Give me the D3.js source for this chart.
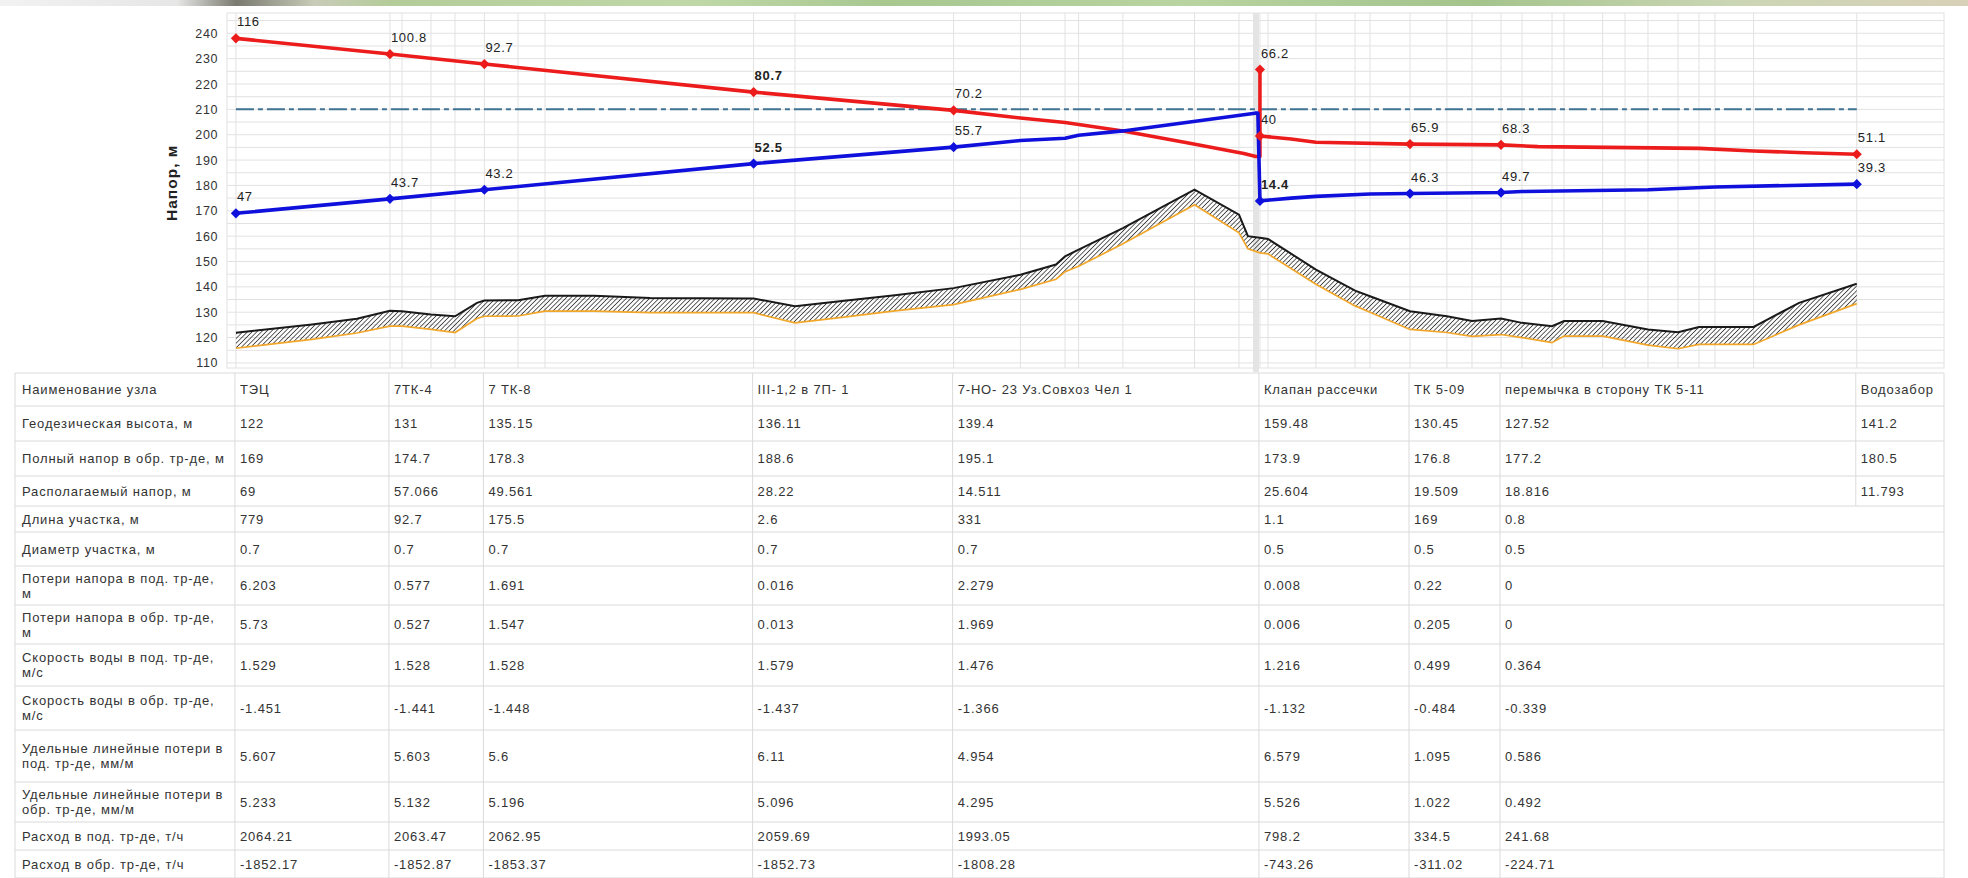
<!DOCTYPE html>
<html><head><meta charset="utf-8">
<script src="https://cdn.jsdelivr.net/npm/d3@7"></script>
<style>
html,body{margin:0;padding:0;background:#fff;}
svg{display:block;}
text{font-family:"Liberation Sans",Arial,sans-serif;}
</style></head><body>
<svg id="c" width="1968" height="878"></svg>
<script>
// ---------------- DATA ----------------
const nodeNames = ["ТЭЦ","7ТК-4","7 ТК-8","III-1,2  в 7П- 1","7-НО- 23 Уз.Совхоз Чел 1","Клапан рассечки","ТК 5-09","перемычка в  сторону ТК 5-11","Водозабор"];
// position of nodes along the profile (conditional units 0..100)
const nodeX = [0.52, 9.49, 14.99, 30.67, 42.32, 60.16, 68.90, 74.20, 94.92];

const geodetic   = [122, 131, 135.15, 136.11, 139.4, 159.48, 130.45, 127.52, 141.2];
const fullReturn = [169, 174.7, 178.3, 188.6, 195.1, 173.9, 176.8, 177.2, 180.5];
const availHead  = [69, 57.066, 49.561, 28.22, 14.511, 25.604, 19.509, 18.816, 11.793];
const segLength  = [779, 92.7, 175.5, 2.6, 331, 1.1, 169, 0.8];
const segDiam    = [0.7, 0.7, 0.7, 0.7, 0.7, 0.5, 0.5, 0.5];
const lossSup    = [6.203, 0.577, 1.691, 0.016, 2.279, 0.008, 0.22, 0];
const lossRet    = [5.73, 0.527, 1.547, 0.013, 1.969, 0.006, 0.205, 0];
const velSup     = [1.529, 1.528, 1.528, 1.579, 1.476, 1.216, 0.499, 0.364];
const velRet     = [-1.451, -1.441, -1.448, -1.437, -1.366, -1.132, -0.484, -0.339];
const specSup    = [5.607, 5.603, 5.6, 6.11, 4.954, 6.579, 1.095, 0.586];
const specRet    = [5.233, 5.132, 5.196, 5.096, 4.295, 5.526, 1.022, 0.492];
const flowSup    = [2064.21, 2063.47, 2062.95, 2059.69, 1993.05, 798.2, 334.5, 241.68];
const flowRet    = [-1852.17, -1852.87, -1853.37, -1852.73, -1808.28, -743.26, -311.02, -224.71];

// chart data labels (piezometric head above ground)
const supplyLabels = ["116","100.8","92.7","80.7","70.2","40","65.9","68.3","51.1"];
const returnLabels = ["47","43.7","43.2","52.5","55.7","14.4","46.3","49.7","39.3"];
const valvePeakHead = 225.7;
const valvePeakLabel = "66.2";
const staticHead = 210;

// supply (red) head line
const supplyX = [0.52, 9.49, 14.99, 30.67, 42.32, 46.21, 48.81, 52.18, 55.84, 59.22, 59.92, 60.16, 60.16, 60.16, 61.97, 63.42, 68.90, 74.20, 76.35, 85.73, 88.91, 91.85, 94.92];
const supplyY = [238.0, 231.8, 227.9, 216.8, 209.6, 206.6, 204.8, 201.5, 196.9, 192.6, 191.4, 191.4, 225.7, 199.5, 198.3, 197.0, 196.3, 196.0, 195.3, 194.6, 193.6, 192.9, 192.3];
// return (blue) head line
const returnX = [0.52, 9.49, 14.99, 30.67, 42.32, 46.21, 48.81, 49.60, 52.18, 59.87, 60.04, 60.16, 61.97, 63.42, 66.57, 68.90, 74.20, 75.42, 82.76, 86.66, 94.92];
const returnY = [169.0, 174.7, 178.3, 188.6, 195.1, 197.7, 198.6, 199.8, 201.5, 208.5, 208.5, 173.9, 175.0, 175.7, 176.6, 176.8, 177.2, 177.6, 178.3, 179.4, 180.5];

// ground profile
const groundX   = [0.52, 4.95, 7.57, 9.49, 10.19, 11.88, 13.28, 14.56, 14.99, 16.95, 18.52, 21.37, 24.64, 30.67, 33.08, 35.82, 38.90, 42.32, 46.21, 48.28, 48.81, 49.60, 52.18, 56.35, 58.94, 59.46, 60.16, 60.63, 63.42, 65.70, 66.57, 68.90, 71.05, 72.51, 74.20, 75.42, 77.17, 77.87, 80.12, 82.76, 84.51, 85.73, 88.91, 91.56, 94.92];
const groundTop = [121.9, 125.2, 127.4, 130.6, 130.4, 129.1, 128.4, 133.7, 134.6, 134.7, 136.5, 136.5, 135.6, 135.4, 132.4, 134.4, 136.7, 139.5, 144.8, 148.8, 152.0, 154.7, 163.2, 178.3, 168.5, 160.0, 159.4, 158.9, 146.8, 138.5, 136.3, 130.4, 128.4, 126.5, 127.5, 125.8, 124.5, 126.5, 126.5, 123.2, 122.1, 124.2, 124.2, 133.7, 141.2];
const pipeBottom= [115.8, 119.3, 121.8, 124.5, 124.5, 123.2, 122.0, 127.5, 128.4, 128.5, 130.4, 130.4, 129.8, 129.8, 125.8, 128.0, 130.5, 133.0, 139.0, 143.0, 146.0, 148.1, 157.0, 172.4, 161.3, 155.0, 153.4, 153.0, 141.0, 132.5, 130.0, 123.2, 122.0, 120.5, 121.2, 120.0, 118.0, 120.6, 120.6, 117.0, 115.6, 117.3, 117.3, 125.0, 133.4];

// vertical grid stations
const gridX = [0.52, 9.49, 10.19, 11.88, 13.28, 14.99, 16.95, 18.52, 30.67, 33.08, 42.32, 46.21, 48.81, 49.60, 52.18, 56.35, 58.94, 60.16, 60.63, 63.42, 65.70, 66.57, 68.90, 71.05, 72.51, 74.20, 75.42, 77.17, 77.87, 80.12, 81.42, 82.76, 84.51, 85.73, 86.66, 88.91, 94.92];

const yTicks = [110,120,130,140,150,160,170,180,190,200,210,220,230,240];
const yTitle = "Напор, м";

const rowLabels = [
  ["Наименование узла"],
  ["Геодезическая высота, м"],
  ["Полный напор в обр. тр-де, м"],
  ["Располагаемый напор, м"],
  ["Длина участка, м"],
  ["Диаметр участка, м"],
  ["Потери напора в под. тр-де,","м"],
  ["Потери напора в обр. тр-де,","м"],
  ["Скорость воды в под. тр-де,","м/с"],
  ["Скорость воды в обр. тр-де,","м/с"],
  ["Удельные линейные потери в","под. тр-де, мм/м"],
  ["Удельные линейные потери в","обр. тр-де, мм/м"],
  ["Расход в под. тр-де, т/ч"],
  ["Расход в обр. тр-де, т/ч"]
];
const rowValues = [nodeNames, geodetic, fullReturn, availHead, segLength, segDiam, lossSup, lossRet, velSup, velRet, specSup, specRet, flowSup, flowRet];

// ---------------- DRAWING ----------------
const svg = d3.select('#c');
const x = d3.scaleLinear().domain([0,100]).range([227,1944]);
const y = d3.scaleLinear().domain([108,248]).range([368,13]);

const defs = svg.append('defs');
const pat = defs.append('pattern').attr('id','hatch').attr('patternUnits','userSpaceOnUse')
  .attr('width',3.3).attr('height',3.3).attr('patternTransform','rotate(45)');
pat.append('line').attr('x1',0).attr('y1',0).attr('x2',0).attr('y2',3.3).attr('stroke','#151515').attr('stroke-width',1.35);
const lg = defs.append('linearGradient').attr('id','strip');
[[0,'#f2f2f2'],[0.09,'#e6e6e6'],[0.12,'#7a7a70'],[0.16,'#c8ccb8'],[0.2,'#b4cc98'],[0.35,'#c0d8a8'],[0.45,'#a8c890'],[0.6,'#b8d4a0'],[0.75,'#a4c48c'],[0.88,'#cbd6b4'],[1,'#d8d0b8']]
  .forEach(s=>lg.append('stop').attr('offset',s[0]).attr('stop-color',s[1]));
svg.append('rect').attr('x',0).attr('y',0).attr('width',1968).attr('height',6).attr('fill','url(#strip)');

// grid
const grid = svg.append('g');
grid.selectAll('line.h').data(d3.range(110,246,5)).join('line').attr('class','h')
  .attr('x1',x(0)).attr('x2',x(100)).attr('y1',d=>y(d)).attr('y2',d=>y(d))
  .attr('stroke','#e2e2e2').attr('stroke-width',1);
grid.selectAll('line.v').data(gridX).join('line').attr('class','v')
  .attr('x1',d=>x(d)).attr('x2',d=>x(d)).attr('y1',y(248)).attr('y2',y(108))
  .attr('stroke','#e2e2e2').attr('stroke-width',1);
grid.append('rect').attr('x',x(0)).attr('y',y(248)).attr('width',x(100)-x(0)).attr('height',y(108)-y(248))
  .attr('fill','none').attr('stroke','#e2e2e2');
// valve band
grid.append('rect').attr('x',x(nodeX[5])-7).attr('y',y(248)).attr('width',6).attr('height',y(108)-y(248)+4)
  .attr('fill','#e4e4e4');

// y axis
const yAxis = svg.append('g').attr('transform',`translate(${x(0)},0)`)
  .call(d3.axisLeft(y).tickValues(yTicks).tickSize(0).tickPadding(9));
yAxis.select('.domain').remove();
yAxis.selectAll('text').attr('font-family','"Liberation Sans",Arial,sans-serif').attr('font-size',12.5)
  .attr('fill','#333').attr('letter-spacing',0.6);
svg.append('text').attr('transform',`translate(177,${y(181)}) rotate(-90)`).attr('text-anchor','middle')
  .attr('font-size',15.5).attr('font-weight','bold').attr('fill','#222').attr('letter-spacing',1).text(yTitle);

// ground
const ground = groundX.map((d,i)=>({x:d,top:groundTop[i],bot:pipeBottom[i]}));
svg.append('path').datum(ground)
  .attr('d', d3.area().x(d=>x(d.x)).y0(d=>y(d.bot)).y1(d=>y(d.top)))
  .attr('fill','url(#hatch)');
svg.append('path').datum(ground)
  .attr('d', d3.line().x(d=>x(d.x)).y(d=>y(d.bot)))
  .attr('fill','none').attr('stroke','#f2a72a').attr('stroke-width',1.7);
svg.append('path').datum(ground)
  .attr('d', d3.line().x(d=>x(d.x)).y(d=>y(d.top)))
  .attr('fill','none').attr('stroke','#1a1a1a').attr('stroke-width',2);

// static head dashed line
svg.append('line').attr('x1',x(nodeX[0])).attr('x2',x(nodeX[nodeX.length-1]))
  .attr('y1',y(staticHead)).attr('y2',y(staticHead))
  .attr('stroke','#3f7393').attr('stroke-width',2).attr('stroke-dasharray','18,4,5,4');

// head lines
const lineGen = d3.line().x(d=>x(d[0])).y(d=>y(d[1]));
svg.append('path').datum(supplyX.map((d,i)=>[d,supplyY[i]])).attr('d',lineGen)
  .attr('fill','none').attr('stroke','#ec1c1c').attr('stroke-width',3.6).attr('stroke-linejoin','round');
svg.append('path').datum(returnX.map((d,i)=>[d,returnY[i]])).attr('d',lineGen)
  .attr('fill','none').attr('stroke','#1010dc').attr('stroke-width',3.6).attr('stroke-linejoin','round');

// markers
const diamond = d3.symbol(d3.symbolSquare, 52);
const supMarkers = nodeX.map((d,i)=>({x:d, v:fullReturn[i]+availHead[i], label:supplyLabels[i]}));
supMarkers.push({x:nodeX[5], v:valvePeakHead, label:valvePeakLabel});
const retMarkers = nodeX.map((d,i)=>({x:d, v:fullReturn[i], label:returnLabels[i]}));
svg.selectAll('path.ms').data(supMarkers).join('path').attr('class','ms')
  .attr('d',diamond).attr('transform',d=>`translate(${x(d.x)},${y(d.v)}) rotate(45)`).attr('fill','#ec1c1c');
svg.selectAll('path.mr').data(retMarkers).join('path').attr('class','mr')
  .attr('d',diamond).attr('transform',d=>`translate(${x(d.x)},${y(d.v)}) rotate(45)`).attr('fill','#1010dc');

const boldLabels = new Set(["80.7","52.5","14.4"]);
svg.selectAll('text.lbl').data(supMarkers.concat(retMarkers)).join('text').attr('class','lbl')
  .attr('x',d=>x(d.x)+1).attr('y',d=>y(d.v)-12)
  .attr('font-size',13).attr('fill','#222').attr('letter-spacing',0.7)
  .attr('font-weight',d=>boldLabels.has(d.label)?'bold':'normal')
  .text(d=>d.label);

// ---------------- TABLE ----------------
const rowH = [33,35,35,30,26,34,39,39,42,44,52,40,28,28];
const tTop = 373, tLeft = 15, tRight = x(100);
const ys = [tTop];
rowH.forEach(h=>ys.push(ys[ys.length-1]+h));
const tbl = svg.append('g');
const lineCol = '#dadada';
tbl.selectAll('line.rh').data(ys).join('line').attr('class','rh')
  .attr('x1',tLeft).attr('x2',tRight).attr('y1',d=>d).attr('y2',d=>d).attr('stroke',lineCol);
tbl.append('line').attr('x1',tLeft).attr('x2',tLeft).attr('y1',tTop).attr('y2',ys[ys.length-1]).attr('stroke',lineCol);
tbl.append('line').attr('x1',tRight).attr('x2',tRight).attr('y1',tTop).attr('y2',ys[ys.length-1]).attr('stroke',lineCol);
nodeX.forEach((nx,i)=>{
  const lastRow = (i===nodeX.length-1) ? 4 : ys.length-1;
  tbl.append('line').attr('x1',x(nx)-1).attr('x2',x(nx)-1).attr('y1',tTop).attr('y2',ys[lastRow]).attr('stroke',lineCol);
});
const fs = 13, ls = 0.85;
rowLabels.forEach((lab,r)=>{
  const cy = (ys[r]+ys[r+1])/2;
  lab.forEach((ln,k)=>{
    const off = lab.length>1 ? (k===0?-7.5:7.5) : 0;
    tbl.append('text').attr('x',tLeft+7).attr('y',cy+off).attr('dy','0.35em')
      .attr('font-size',fs).attr('fill','#333').attr('letter-spacing',ls).text(ln);
  });
  rowValues[r].forEach((v,i)=>{
    tbl.append('text').attr('x',x(nodeX[i])+4).attr('y',cy).attr('dy','0.35em')
      .attr('font-size',fs).attr('fill','#333').attr('letter-spacing',ls).text(String(v));
  });
});
</script>
</body></html>
